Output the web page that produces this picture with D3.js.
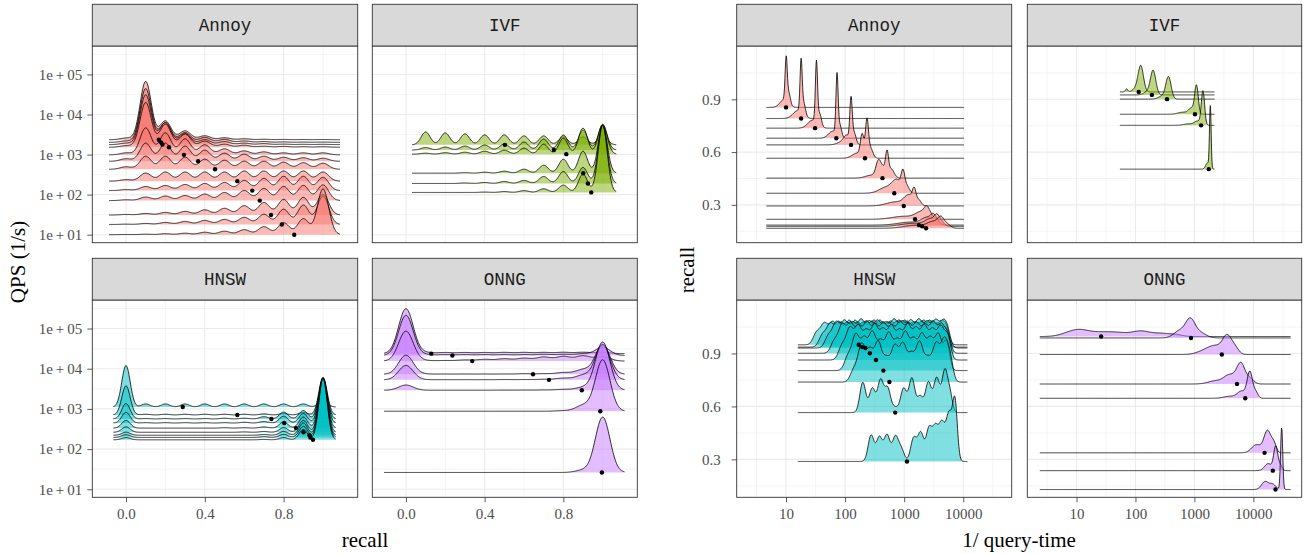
<!DOCTYPE html>
<html>
<head>
<meta charset="utf-8">
<script src="https://cdn.jsdelivr.net/npm/d3@7"></script>
<style>
  body { margin: 0; background: #ffffff; }
  svg text { font-family: "Liberation Serif", "DejaVu Serif", serif; }
</style>
</head>
<body>
<script>
// ---------------------------------------------------------------------------
// Benchmark results: one entry per index configuration, slowest first.
// qps = overall throughput (1/s), recall = mean recall@10.
// *RecallHist = share of queries (%) reaching recall 0, 0.1, ..., 1.0.
// *SpeedModes = modes of the per-query log10(1/query-time) distribution:
//               [log10 centre, relative density, spread (decades, default 0.06)].
// ---------------------------------------------------------------------------
const algorithms = ["Annoy", "IVF", "HNSW", "ONNG"];
const recallLevels = [0, 0.1, 0.2, 0.3, 0.4, 0.5, 0.6, 0.7, 0.8, 0.9, 1.0];

const annoyQps    = [10, 18, 31, 71, 126, 217, 429, 680, 984, 1528, 1774, 2018, 2347];
const annoyRecall = [0.854, 0.791, 0.736, 0.679, 0.641, 0.565, 0.452, 0.366, 0.294, 0.218, 0.185, 0.178, 0.167];
const annoyRecallHist = [
  [0.2, 0.5, 1, 1.5, 2.5, 3.5, 5, 8, 12, 16, 46],
  [0.3, 1, 2, 3, 4, 5, 7, 10, 15, 19, 28],
  [0.5, 1.5, 2.5, 3.5, 5, 6.5, 9, 12, 15, 17, 20],
  [0.8, 3.5, 4.5, 5, 6.5, 8, 10, 12, 14, 15, 15.5],
  [1, 4, 5, 6, 7, 8, 10, 12, 14, 14, 13],
  [1.5, 8, 9, 9, 9, 9, 10, 10, 10, 10, 9],
  [2.5, 13, 13, 12, 10, 9, 8, 8, 7, 6.5, 6],
  [2.5, 18, 18, 15, 11, 8, 7, 5, 4, 3.5, 3],
  [2, 27, 22, 16, 10, 6, 4, 3, 2, 2, 2],
  [1.5, 45, 23, 13, 6, 3, 2, 1, 0.8, 0.5, 0.5],
  [1.5, 50, 22, 11, 5, 3, 1.5, 1, 0.5, 0.3, 0.3],
  [1.5, 55, 20, 10, 5, 3, 1.5, 0.8, 0.5, 0.3, 0.3],
  [1.7, 59, 19, 9, 4, 2, 1, 0.5, 0.3, 0.2, 0.2]
];
const annoySpeedModes = [
  [[1.003, 43, 0.018], [0.97, 8, 0.07], [1.05, 10, 0.025]],
  [[1.255, 50, 0.018], [1.2, 8, 0.08], [1.3, 12, 0.03]],
  [[1.515, 60, 0.018], [1.45, 8, 0.08], [1.57, 12, 0.03]],
  [[1.863, 58, 0.018], [1.79, 7, 0.07], [1.91, 12, 0.03]],
  [[2.1, 41, 0.02], [2.03, 8, 0.05], [2.15, 12, 0.035], [1.95, 3, 0.08]],
  [[2.37, 36, 0.025], [2.29, 22, 0.03], [2.43, 10, 0.04], [2.2, 5, 0.08]],
  [[2.71, 21, 0.025], [2.56, 14, 0.04], [2.64, 10, 0.05], [2.78, 9, 0.05], [2.45, 3, 0.1]],
  [[2.98, 17, 0.03], [2.88, 12, 0.08], [2.7, 6, 0.12], [3.05, 6, 0.04]],
  [[3.17, 12.5, 0.03], [3.08, 10, 0.08], [2.85, 4, 0.15], [3.25, 5, 0.04]],
  [[3.38, 7.5, 0.04], [3.3, 7, 0.1], [3.0, 3, 0.2], [3.45, 3, 0.04]],
  [[3.49, 6, 0.04], [3.4, 7, 0.1], [3.1, 3, 0.2], [3.56, 3, 0.04]],
  [[3.55, 6, 0.04], [3.46, 7, 0.1], [3.15, 3, 0.2], [3.62, 4, 0.05]],
  [[3.62, 8, 0.05], [3.5, 6, 0.1], [3.2, 3, 0.2], [3.72, 4, 0.06]]
];

const ivfQps    = [113.5, 190, 343, 1023, 1297, 1750];
const ivfRecall = [0.942, 0.925, 0.901, 0.815, 0.752, 0.503];
const ivfRecallHist = [
  [0, 0, 0, 0, 0.3, 0.7, 1.5, 3, 6, 15, 55],
  [0, 0, 0, 0.5, 1, 2, 3, 7, 12, 16, 58],
  [0, 0, 0, 0.5, 1, 2, 4, 8, 14, 22, 48],
  [0, 1, 1.5, 2, 3, 4, 6, 10, 16, 26, 30],
  [0, 2.5, 3, 4, 5, 6, 8, 11, 15, 20, 25],
  [0, 13, 12, 11, 10, 10, 9, 9, 8, 8, 10]
];
const ivfSpeedModes = [
  [[2.09, 26, 0.045], [1.85, 3, 0.02], [2.0, 3, 0.05]],
  [[2.3, 24, 0.045], [2.2, 3, 0.06]],
  [[2.56, 22, 0.045], [2.45, 3, 0.06]],
  [[3.035, 28, 0.03], [2.95, 6, 0.05], [2.8, 2, 0.08]],
  [[3.145, 34, 0.028], [3.05, 4, 0.05], [2.9, 1.5, 0.08]],
  [[3.27, 62, 0.014], [3.22, 6, 0.03]]
];

const hnswQps    = [170, 195, 221, 262, 333, 444, 562, 705, 1114];
const hnswRecall = [0.949, 0.936, 0.931, 0.901, 0.863, 0.803, 0.738, 0.565, 0.288];
const hnswRecallHist = [
  [3, 0, 0, 0, 0, 0, 0, 0.5, 3, 13.5, 80],
  [3.5, 0, 0, 0, 0, 0, 0, 1, 4, 14.5, 77],
  [4, 0, 0, 0, 0, 0, 0, 1, 5, 16, 74],
  [7, 0, 0, 0, 0, 0, 0.5, 1, 6, 15.5, 70],
  [10, 0, 0, 0, 0, 0.5, 0.5, 1.5, 8, 14.5, 65],
  [14, 0.5, 0.5, 0.5, 0.5, 0.5, 1, 2, 9, 12.5, 59],
  [20, 0.5, 0.5, 0.5, 0.5, 1, 1, 3, 9, 11, 53],
  [38, 1, 1, 1, 1, 1, 1, 1.5, 2, 3.5, 49],
  [54, 4, 4, 4, 4, 4, 4, 4, 4, 4, 10]
];
const hnswSpeedModes = [
  [[1.52, 12], [1.65, 20], [1.79, 21], [1.93, 20], [2.07, 22], [2.21, 20], [2.35, 21], [2.49, 22], [2.63, 20], [2.77, 21], [2.91, 22], [3.05, 21], [3.19, 20], [3.33, 22], [3.47, 21], [3.61, 20], [3.71, 16, 0.05]],
  [[1.62, 12], [1.75, 22], [1.89, 23], [2.03, 22], [2.17, 24], [2.31, 22], [2.45, 23], [2.59, 24], [2.73, 22], [2.87, 23], [3.01, 24], [3.15, 22], [3.29, 23], [3.43, 24], [3.57, 22], [3.7, 18, 0.05]],
  [[1.72, 12], [1.85, 24], [1.99, 25], [2.13, 23], [2.27, 26], [2.41, 24], [2.55, 25], [2.69, 23], [2.83, 26], [2.97, 24], [3.11, 25], [3.25, 26], [3.39, 24], [3.53, 25], [3.66, 23], [3.74, 12, 0.05]],
  [[1.82, 12], [1.95, 27], [2.09, 28], [2.23, 25], [2.37, 29], [2.51, 26], [2.65, 28], [2.79, 25], [2.93, 29], [3.07, 27], [3.21, 28], [3.35, 26], [3.49, 29], [3.63, 27], [3.74, 16, 0.05]],
  [[1.95, 14], [2.08, 30], [2.22, 32], [2.36, 27], [2.5, 33], [2.64, 28], [2.78, 32], [2.92, 27], [3.06, 33], [3.2, 29], [3.34, 32], [3.48, 28], [3.62, 32], [3.74, 22, 0.05]],
  [[2.05, 14], [2.18, 34], [2.32, 30], [2.46, 36], [2.6, 27], [2.74, 35], [2.88, 28], [3.02, 36], [3.16, 29], [3.3, 34], [3.44, 30], [3.58, 35], [3.72, 28, 0.05]],
  [[2.15, 12], [2.28, 36], [2.42, 30], [2.56, 38], [2.7, 22], [2.84, 34], [2.98, 36], [3.12, 26], [3.26, 38], [3.4, 22], [3.54, 36], [3.68, 40], [3.78, 20, 0.05]],
  [[2.3, 30, 0.05], [2.46, 24, 0.05], [2.6, 32, 0.05], [2.72, 24, 0.05], [2.85, 5, 0.05], [2.99, 24, 0.05], [3.13, 34, 0.05], [3.27, 16, 0.05], [3.41, 30, 0.05], [3.55, 34, 0.05], [3.69, 42, 0.05], [3.78, 15, 0.04]],
  [[2.44, 26, 0.05], [2.58, 24, 0.05], [2.71, 26, 0.05], [2.85, 24, 0.05], [2.95, 12, 0.05], [3.16, 23, 0.05], [3.28, 28, 0.05], [3.42, 32, 0.05], [3.53, 32, 0.05], [3.64, 36, 0.05], [3.76, 46, 0.05], [3.86, 58, 0.04]]
];

const onngQps    = [26.2, 875, 2917, 5284, 7278, 15490, 21380, 23710];
const onngRecall = [0.996, 0.988, 0.894, 0.727, 0.646, 0.337, 0.236, 0.129];
const onngRecallHist = [
  [0, 0, 0, 0, 0, 0, 0, 0, 0, 4, 96],
  [0, 0, 0, 0, 0, 0, 0, 0, 1, 10, 89],
  [9, 0, 0, 0, 0, 0.2, 0.3, 0.5, 1.5, 5, 83.5],
  [25, 0.3, 0.3, 0.3, 0.3, 0.5, 0.5, 1, 3, 8, 60.8],
  [33, 0.5, 0.5, 0.5, 0.5, 0.5, 1, 1, 3, 8, 51.5],
  [52, 1, 1, 2, 3, 4, 5, 7, 8, 9, 8],
  [70, 1.5, 1.5, 1.5, 1.5, 1.5, 1.5, 2, 2, 3, 14.5],
  [78, 2, 2, 2, 2, 2.2, 2.2, 2.2, 2.4, 2.4, 2.6]
];
const onngSpeedModes = [
  [[0.85, 2.5, 0.15], [1.05, 5, 0.15], [1.35, 3.5, 0.2], [1.7, 3.5, 0.2], [2.1, 5, 0.15], [2.45, 3, 0.15], [2.7, 1.5, 0.1]],
  [[2.93, 17.5, 0.08], [2.75, 7, 0.1], [3.1, 5, 0.1]],
  [[3.56, 18, 0.08], [3.35, 8, 0.12], [3.7, 5, 0.06], [3.15, 3, 0.12]],
  [[3.79, 20, 0.07], [3.6, 9, 0.1], [3.35, 3, 0.12], [3.95, 5, 0.06]],
  [[3.94, 26, 0.045], [3.8, 7, 0.07], [4.04, 6, 0.04], [3.6, 2, 0.1]],
  [[4.24, 22, 0.06], [4.05, 8, 0.08], [4.35, 8, 0.04]],
  [[4.38, 24, 0.035], [4.25, 7, 0.06], [4.46, 5, 0.03]],
  [[4.48, 62, 0.018], [4.2, 8, 0.06], [4.33, 5, 0.05]]
];

// Axis tick values
const qpsTicks    = [1e1, 1e2, 1e3, 1e4, 1e5];
const recallTicks = [0, 0.4, 0.8];
const speedTicks  = [10, 100, 1000, 10000];
const recallYTicks = [0.3, 0.6, 0.9];

// ---------------------------------------------------------------------------
// Lookup table per algorithm built from the arrays above
// ---------------------------------------------------------------------------
const series = {
  Annoy: { qps: annoyQps, recall: annoyRecall, hist: annoyRecallHist, modes: annoySpeedModes },
  IVF:   { qps: ivfQps,   recall: ivfRecall,   hist: ivfRecallHist,   modes: ivfSpeedModes },
  HNSW:  { qps: hnswQps,  recall: hnswRecall,  hist: hnswRecallHist,  modes: hnswSpeedModes },
  ONNG:  { qps: onngQps,  recall: onngRecall,  hist: onngRecallHist,  modes: onngSpeedModes }
};
const palette = { Annoy: "#F8766D", IVF: "#7CAE00", HNSW: "#00BFC4", ONNG: "#C77CFF" };

// kernel settings for the recall ridges (bandwidth, evaluated range, height in decades per unit density)
const recallKernel = {
  Annoy: { bw: 0.0287, from: -0.086, to: 1.086, scale: 0.172 },
  IVF:   { bw: 0.023,  from: 0.031,  to: 1.069, scale: 0.143 },
  HNSW:  { bw: 0.0213, from: -0.064, to: 1.064, scale: 0.102 },
  ONNG:  { bw: 0.037,  from: -0.111, to: 1.111, scale: 0.133 }
};
// evaluated log10 range for the throughput ridges
const speedRange = { Annoy: [0.667, 4.01], IVF: [1.736, 3.34], HNSW: [1.2, 4.07], ONNG: [0.377, 4.63] };
const speedScale = 0.00569;   // recall units per unit of relative density

// ---------------------------------------------------------------------------
// Layout
// ---------------------------------------------------------------------------
const W = 1307, H = 554;
const svg = d3.select("body").append("svg").attr("width", W).attr("height", H)
  .style("display", "block");

const columns = {
  qps:  [[92.3, 357.7], [372.3, 637.3]],
  time: [[736.7, 1011.7], [1027.3, 1301.7]]
};
const rows = [
  { strip: 4.3, top: 46, bottom: 242.7 },
  { strip: 258.3, top: 300, bottom: 497.3 }
];
const facet = { Annoy: [0, 0], IVF: [1, 0], HNSW: [0, 1], ONNG: [1, 1] };

const GRID = "#EBEBEB";
const BORDER = "#333333";
const TICKTXT = "#4D4D4D";
const TICKSIZE = 15;
const gauss = z => Math.exp(-0.5 * z * z);

function gridLines(g, x0, x1, y0, y1, xs, ys, width) {
  xs.forEach(v => g.append("line").attr("x1", v).attr("x2", v).attr("y1", y0).attr("y2", y1)
    .attr("stroke", GRID).attr("stroke-width", width));
  ys.forEach(v => g.append("line").attr("x1", x0).attr("x2", x1).attr("y1", v).attr("y2", v)
    .attr("stroke", GRID).attr("stroke-width", width));
}

function strip(x0, x1, row, label) {
  svg.append("rect").attr("x", x0).attr("y", row.strip).attr("width", x1 - x0)
    .attr("height", row.top - row.strip).attr("fill", "#D9D9D9")
    .attr("stroke", BORDER).attr("stroke-width", 0.9);
  svg.append("text").attr("x", (x0 + x1) / 2).attr("y", (row.strip + row.top) / 2 + 6)
    .attr("text-anchor", "middle").attr("font-size", 17.5)
    .style("font-family", "'Liberation Mono', 'DejaVu Sans Mono', monospace")
    .attr("fill", "#1A1A1A").text(label);
}

function styleAxis(sel) {
  sel.select(".domain").remove();
  sel.selectAll(".tick line").attr("stroke", BORDER).attr("stroke-width", 0.8);
  sel.selectAll(".tick text").attr("fill", TICKTXT).attr("font-size", TICKSIZE)
    .style("font-family", "'Liberation Serif', serif");
}

function ridgeLayer(g, clipId, color, ridges) {
  const cg = g.append("g").attr("clip-path", `url(#${clipId})`);
  ridges.forEach(r => {
    cg.append("path").attr("d", r.area).attr("fill", color).attr("fill-opacity", 0.5).attr("stroke", "none");
    cg.append("path").attr("d", r.line).attr("fill", "none").attr("stroke", "#000").attr("stroke-width", 0.8);
  });
}

// ---------------------------------------------------------------------------
// Left: QPS vs recall, ridges = per-query recall distribution
// ---------------------------------------------------------------------------
function drawRecallPanel(name) {
  const d = series[name];
  const [ci, ri] = facet[name];
  const [x0, x1] = columns.qps[ci];
  const row = rows[ri];
  const x = d3.scaleLinear().domain([-0.171, 1.176]).range([x0, x1]);
  const y = d3.scaleLog().domain([Math.pow(10, 0.80), Math.pow(10, 5.71)]).range([row.bottom, row.top]);
  const g = svg.append("g");
  const clipId = "clipQ" + name;
  g.append("clipPath").attr("id", clipId).append("rect")
    .attr("x", x0).attr("y", row.top).attr("width", x1 - x0).attr("height", row.bottom - row.top);
  g.append("rect").attr("x", x0).attr("y", row.top).attr("width", x1 - x0)
    .attr("height", row.bottom - row.top).attr("fill", "#fff");

  gridLines(g, x0, x1, row.top, row.bottom,
    [0.2, 0.6, 1.0].map(x), [1.5, 2.5, 3.5, 4.5, 5.5].map(v => y(Math.pow(10, v))), 0.55);
  gridLines(g, x0, x1, row.top, row.bottom, recallTicks.map(x), qpsTicks.map(y), 1.1);

  const k = recallKernel[name];
  const xs = d3.range(0, 401).map(i => k.from + (k.to - k.from) * i / 400);
  const order = d3.range(d.qps.length).sort((a, b) => d.qps[b] - d.qps[a]);
  const norm = 1 / (k.bw * Math.sqrt(2 * Math.PI));
  const ridges = order.map(i => {
    const hist = d.hist[i];
    const tot = d3.sum(hist);
    const base = Math.log10(d.qps[i]);
    const pts = xs.map(xv => {
      let s = 0;
      hist.forEach((w, j) => { s += (w / tot) * gauss((xv - recallLevels[j]) / k.bw); });
      return [xv, base + k.scale * s * norm];
    });
    const area = d3.area().x(p => x(p[0])).y0(y(d.qps[i])).y1(p => y(Math.pow(10, p[1])));
    const line = d3.line().x(p => x(p[0])).y(p => y(Math.pow(10, p[1])));
    return { area: area(pts), line: line(pts) };
  });
  ridgeLayer(g, clipId, palette[name], ridges);

  g.selectAll("circle.pt").data(d.qps.map((q, i) => [d.recall[i], q])).join("circle")
    .attr("class", "pt").attr("cx", p => x(p[0])).attr("cy", p => y(p[1])).attr("r", 2.2).attr("fill", "#000");

  g.append("rect").attr("x", x0).attr("y", row.top).attr("width", x1 - x0)
    .attr("height", row.bottom - row.top).attr("fill", "none").attr("stroke", BORDER).attr("stroke-width", 0.9);
  strip(x0, x1, row, name);

  if (ci === 0) {
    const ax = svg.append("g").attr("transform", `translate(${x0},0)`)
      .call(d3.axisLeft(y).tickValues(qpsTicks).tickSize(5).tickPadding(5)
        .tickFormat(v => "1e\u2009+\u20090" + Math.round(Math.log10(v))));
    styleAxis(ax);
  }
  if (ri === 1) {
    const ax = svg.append("g").attr("transform", `translate(0,${row.bottom})`)
      .call(d3.axisBottom(x).tickValues(recallTicks).tickSize(5).tickPadding(6).tickFormat(d3.format(".1f")));
    styleAxis(ax);
  }
}

// ---------------------------------------------------------------------------
// Right: recall vs 1/query-time, ridges = per-query throughput distribution
// ---------------------------------------------------------------------------
function drawSpeedPanel(name) {
  const d = series[name];
  const [ci, ri] = facet[name];
  const [x0, x1] = columns.time[ci];
  const row = rows[ri];
  const x = d3.scaleLog().domain([Math.pow(10, 0.165), Math.pow(10, 4.82)]).range([x0, x1]);
  const y = d3.scaleLinear().domain([0.085, 1.203]).range([row.bottom, row.top]);
  const g = svg.append("g");
  const clipId = "clipT" + name;
  g.append("clipPath").attr("id", clipId).append("rect")
    .attr("x", x0).attr("y", row.top).attr("width", x1 - x0).attr("height", row.bottom - row.top);
  g.append("rect").attr("x", x0).attr("y", row.top).attr("width", x1 - x0)
    .attr("height", row.bottom - row.top).attr("fill", "#fff");

  gridLines(g, x0, x1, row.top, row.bottom,
    [0.5, 1.5, 2.5, 3.5, 4.5].map(v => x(Math.pow(10, v))), [0.15, 0.45, 0.75, 1.05].map(y), 0.55);
  gridLines(g, x0, x1, row.top, row.bottom, speedTicks.map(x), recallYTicks.map(y), 1.1);

  const [lo, hi] = speedRange[name];
  const ls = d3.range(0, 501).map(i => lo + (hi - lo) * i / 500);
  const order = d3.range(d.recall.length).sort((a, b) => d.recall[b] - d.recall[a]);
  const ridges = order.map(i => {
    const modes = d.modes[i];
    const base = d.recall[i];
    const pts = ls.map(lv => {
      let s = 0;
      modes.forEach(m => { s += m[1] * gauss((lv - m[0]) / (m[2] || 0.06)); });
      return [Math.pow(10, lv), base + speedScale * s];
    });
    const area = d3.area().x(p => x(p[0])).y0(y(base)).y1(p => y(p[1]));
    const line = d3.line().x(p => x(p[0])).y(p => y(p[1]));
    return { area: area(pts), line: line(pts) };
  });
  ridgeLayer(g, clipId, palette[name], ridges);

  g.selectAll("circle.pt").data(d.qps.map((q, i) => [q, d.recall[i]])).join("circle")
    .attr("class", "pt").attr("cx", p => x(p[0])).attr("cy", p => y(p[1])).attr("r", 2.2).attr("fill", "#000");

  g.append("rect").attr("x", x0).attr("y", row.top).attr("width", x1 - x0)
    .attr("height", row.bottom - row.top).attr("fill", "none").attr("stroke", BORDER).attr("stroke-width", 0.9);
  strip(x0, x1, row, name);

  if (ci === 0) {
    const ax = svg.append("g").attr("transform", `translate(${x0},0)`)
      .call(d3.axisLeft(y).tickValues(recallYTicks).tickSize(5).tickPadding(11).tickFormat(d3.format(".1f")));
    styleAxis(ax);
  }
  if (ri === 1) {
    const ax = svg.append("g").attr("transform", `translate(0,${row.bottom})`)
      .call(d3.axisBottom(x).tickValues(speedTicks).tickSize(5).tickPadding(6).tickFormat(d3.format("d")));
    styleAxis(ax);
  }
}

algorithms.forEach(drawRecallPanel);
algorithms.forEach(drawSpeedPanel);

// axis titles
svg.append("text").attr("x", 365).attr("y", 547).attr("text-anchor", "middle")
  .attr("font-size", 21).attr("fill", "#000").text("recall");
svg.append("text").attr("transform", "translate(25,262) rotate(-90)").attr("text-anchor", "middle")
  .attr("font-size", 21).attr("fill", "#000").text("QPS (1/s)");
svg.append("text").attr("x", 1019).attr("y", 547).attr("text-anchor", "middle")
  .attr("font-size", 21).attr("fill", "#000").text("1/ query-time");
svg.append("text").attr("transform", "translate(694,270) rotate(-90)").attr("text-anchor", "middle")
  .attr("font-size", 21).attr("fill", "#000").text("recall");
</script>
</body>
</html>
